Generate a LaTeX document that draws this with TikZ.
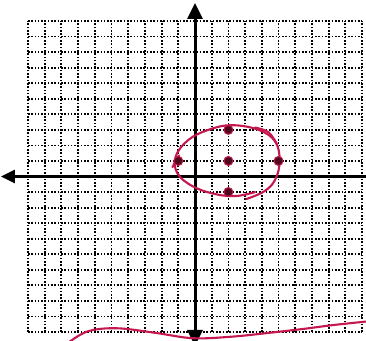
\documentclass[tikz,border=0pt]{standalone}
\usetikzlibrary{arrows.meta}
\definecolor{inkred}{RGB}{196,24,78}
\definecolor{inkdark}{RGB}{80,8,28}
\begin{document}
\begin{tikzpicture}[x=16.7pt,y=15.55pt,
  gridline/.style={line width=1.8pt,dash pattern=on 1.6pt off 1.7pt,black},
  axis/.style={line width=3pt,black},
  curve/.style={line width=2.1pt,color=inkred,line cap=round,line join=round},
  dotmark/.style={circle,fill=inkdark,draw=inkred,line width=1pt,inner sep=0pt,minimum size=9pt}]
\useasboundingbox (-195pt,-163.5pt) rectangle (171pt,176.5pt);
% grid
\foreach \i in {-10,...,10} {
  \draw[gridline] (\i,-10) -- (\i,10);
  \draw[gridline] (-10,\i) -- (10,\i);
}
% axes
\coordinate (ytop) at (0,11.16);
\coordinate (ybot) at (0,-10.9);
\coordinate (xleft) at (-11.62,0);
\coordinate (xright) at (10.4,0);
\coordinate (o) at (0,0);
\draw[axis,-{Triangle[width=15pt,length=16pt]}] (o) -- (ytop);
\draw[axis,-{Triangle[width=15pt,length=16pt]}] (o) -- (ybot);
\draw[axis,-{Triangle[width=13pt,length=14pt]}] (o) -- (xleft);
\draw[axis] (o) -- (xright);
% hand-drawn ellipse
\draw[curve] plot[smooth,tension=0.65] coordinates {
  (3.07,-1.45) (4.15,-0.95) (4.8,-0.2) (5.07,1.0) (4.8,2.25) (3.8,3.0)
  (2.2,3.3) (0.8,3.0) (-0.4,2.35) (-1.15,1.3) (-1.05,0.2) (-0.1,-0.65)
  (1.3,-1.15) (2.5,-1.25) (3.6,-1.0)};
\draw[curve] plot[smooth,tension=0.6] coordinates {(3.6,3.15) (4.4,2.85) (4.9,2.1)};
\draw[curve] plot[smooth,tension=0.6] coordinates {(-1.35,0.6) (-1.15,1.0) (-0.95,1.35)};
% points
\node[dotmark] (c) at (2,1) {};
\node[dotmark] (t) at (2,3) {};
\node[dotmark] (b) at (2,-1) {};
\node[dotmark] (l) at (-1,1) {};
\node[dotmark] (r) at (5,1) {};
% wavy line at bottom
\draw[curve] plot[smooth,tension=0.6] coordinates {
  (-7.6,-10.7) (-6.4,-9.95) (-4.67,-9.76) (-2.4,-10.05) (-0.12,-10.4)
  (2.2,-10.3) (4.3,-10.07) (6.5,-9.8) (8.3,-9.55) (10.5,-9.3)};
\end{tikzpicture}
\end{document}
